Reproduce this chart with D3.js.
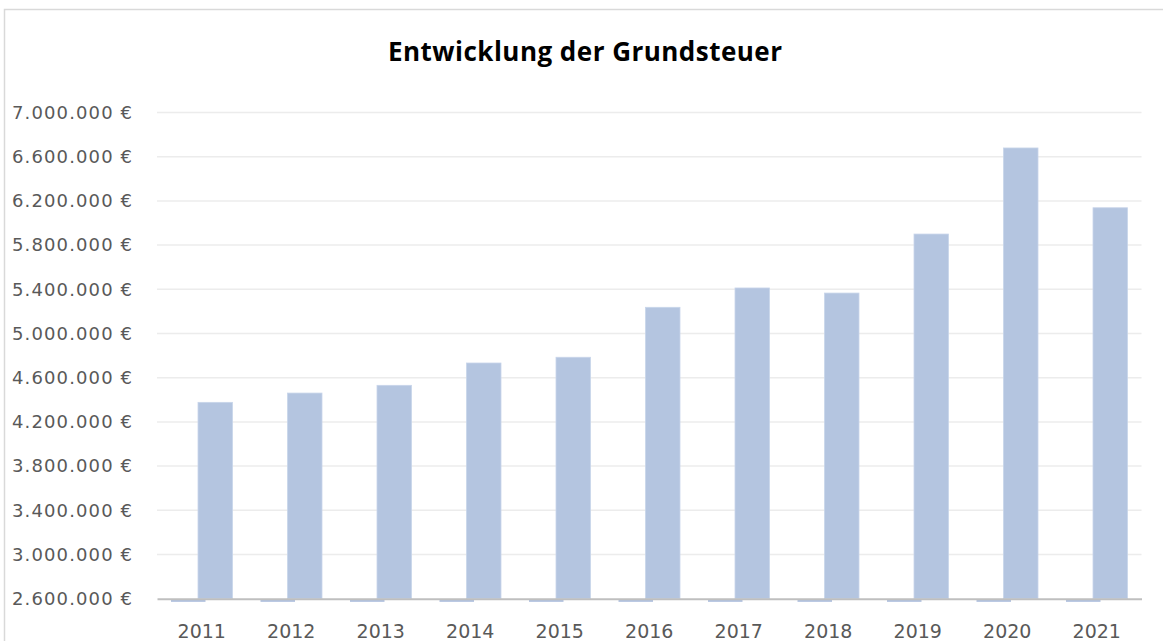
<!DOCTYPE html>
<html>
<head>
<meta charset="utf-8">
<script src="https://cdn.jsdelivr.net/npm/d3@7"></script>
<style>
  body { margin: 0; background: #fff; }
  svg { display: block; }
</style>
</head>
<body>
<svg></svg>
<script>
// Data
var jahre = ["2011", "2012", "2013", "2014", "2015", "2016", "2017", "2018", "2019", "2020", "2021"];
var grundsteuer = [4377000, 4461000, 4531000, 4733000, 4785000, 5237000, 5412000, 5366000, 5900000, 6679000, 6138000];
// first series sits below the axis minimum, only its stub is visible
var serie1 = [0, 0, 0, 0, 0, 0, 0, 0, 0, 0, 0];
var yTicks = [2600000, 3000000, 3400000, 3800000, 4200000, 4600000, 5000000, 5400000, 5800000, 6200000, 6600000, 7000000];

var width = 1163, height = 641;
var svg = d3.select("svg").attr("width", width).attr("height", height);

var margin = { left: 157, right: 21.5, top: 112.5, bottom: 42 };

// chart frame
svg.append("rect")
	.attr("x", 4.5).attr("y", 9.5)
	.attr("width", width + 20).attr("height", height + 20)
	.attr("fill", "none")
	.attr("stroke", "#d9d9d9")
	.attr("stroke-width", 1.5);

// Title
svg.append("text")
	.attr("x", 585).attr("y", 61)
	.attr("text-anchor", "middle")
	.attr("textLength", 394)
	.attr("lengthAdjust", "spacing")
	.style("font-family", "'Open Sans', sans-serif")
	.style("font-weight", "bold")
	.style("font-size", "26px")
	.attr("fill", "#000")
	.text("Entwicklung der Grundsteuer");

// Scales
var x = d3.scaleBand()
	.domain(jahre)
	.range([margin.left, width - margin.right]);

var y = d3.scaleLinear()
	.domain([2600000, 7000000])
	.range([height - margin.bottom - 0.3, margin.top]);

var fmt = d3.formatLocale({ decimal: ",", thousands: ".", grouping: [3], currency: ["", " €"] }).format(",.0f");

// Grid
svg.append("g")
	.selectAll("line")
	.data(yTicks.slice(1))
	.enter().append("line")
	.attr("x1", margin.left).attr("x2", width - margin.right)
	.attr("y1", (d) => y(d)).attr("y2", (d) => y(d))
	.attr("stroke", "#ececec")
	.attr("stroke-width", 1.5);

// Y axis labels
var yAxis = svg.append("g")
	.attr("transform", "translate(" + (margin.left - 25) + ",0)")
	.call(d3.axisLeft(y).tickValues(yTicks).tickSize(0).tickPadding(0).tickFormat((d) => fmt(d) + " €"));
yAxis.select(".domain").remove();
yAxis.selectAll("text")
	.attr("textLength", 120)
	.attr("lengthAdjust", "spacing")
	.style("font-family", "'DejaVu Sans', sans-serif")
	.style("font-size", "18px")
	.attr("fill", "#595959");

// Bars
var bw = 34.5, ov = 3.75;
svg.append("g")
	.selectAll("rect")
	.data(grundsteuer)
	.enter().append("rect")
	.attr("x", (d, i) => x(jahre[i]) + x.bandwidth() / 2 - ov)
	.attr("y", (d) => y(d))
	.attr("width", bw)
	.attr("height", (d) => y(2600000) - y(d))
	.attr("fill", "#b4c5e0")
	.attr("stroke", "#c8d5ea")
	.attr("stroke-width", 0.8);

// Series 1 stubs below the axis
svg.append("g")
	.selectAll("rect")
	.data(serie1)
	.enter().append("rect")
	.attr("x", (d, i) => x(jahre[i]) + x.bandwidth() / 2 + ov - bw)
	.attr("y", (d) => y(Math.max(d, 2600000)) + 1.5)
	.attr("width", bw)
	.attr("height", 1.5)
	.attr("fill", "#9fb3d8");

// X axis
var xAxis = svg.append("g")
	.attr("transform", "translate(0," + y(2600000) + ")")
	.call(d3.axisBottom(x).tickSize(0).tickPadding(26));
xAxis.select(".domain")
	.attr("stroke", "#bfbfbf")
	.attr("stroke-width", 2);
xAxis.selectAll("text")
	.style("font-family", "'DejaVu Sans', sans-serif")
	.style("font-size", "19px")
	.attr("fill", "#595959");
</script>
</body>
</html>
